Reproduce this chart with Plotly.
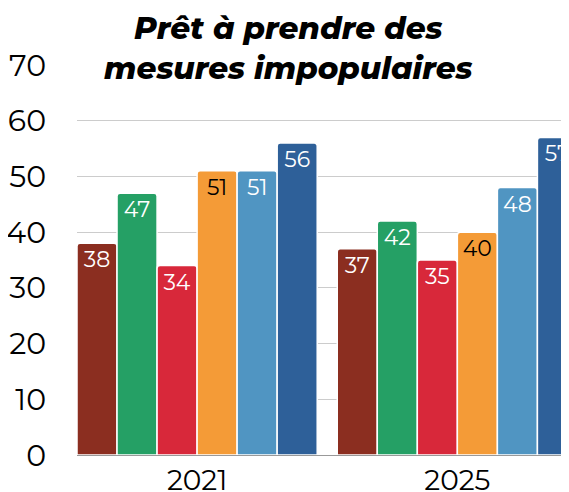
import plotly.graph_objects as go

years = ["2021", "2025"]
series_names = ["Série 1", "Série 2", "Série 3", "Série 4", "Série 5", "Série 6"]
values = [
    [38, 37],
    [47, 42],
    [34, 35],
    [51, 40],
    [51, 48],
    [56, 57],
]
colors = ["#8B2E20", "#25A065", "#D8283A", "#F49B37", "#5095C2", "#2E6099"]
text_colors = ["white", "white", "white", "black", "white", "white"]
y_ticks = [0, 10, 20, 30, 40, 50, 60, 70]

FONT = "Montserrat, Inter, 'DejaVu Sans', sans-serif"

# page has an 8px default body margin
OFF = 8
W, H = 569 - OFF, 492 - OFF
L, R, T = 77 - OFF, 0, 65 - OFF
B = H - (455 - OFF)
plot_w = W - L - R
plot_h = H - T - B

fig = go.Figure()
for name, vals, c, tc in zip(series_names, values, colors, text_colors):
    fig.add_trace(go.Bar(
        x=years, y=vals, name=name,
        marker=dict(color=c, line=dict(color="white", width=1.5)),
        text=[str(v) for v in vals],
        textposition="inside",
        insidetextanchor="end",
        textfont=dict(family=FONT, size=22, color=tc),
        cliponaxis=True,
    ))

fig.update_layout(
    autosize=False,
    width=W, height=H,
    margin=dict(l=L, r=R, t=T, b=B, autoexpand=False),
    paper_bgcolor="white", plot_bgcolor="white",
    barmode="group",
    bargap=0.077,
    bargroupgap=0,
    barcornerradius=3,
    showlegend=False,
    font=dict(family=FONT, color="black"),
    xaxis=dict(
        type="category",
        automargin=False,
        range=[-0.4615, 1.429],
        tickfont=dict(family=FONT, size=28, color="black"),
        showgrid=False,
        showline=True, linecolor="#999999", linewidth=1,
        ticks="",
    ),
    yaxis=dict(
        automargin=False,
        range=[0, 70],
        tickvals=y_ticks,
        tickfont=dict(family=FONT, size=30, color="black"),
        showgrid=True, gridcolor="#CCCCCC", gridwidth=1,
        zeroline=False,
        ticks="outside", ticklen=24, tickcolor="rgba(0,0,0,0)",
    ),
    annotations=[dict(
        text="Prêt à prendre des<br>mesures impopulaires",
        x=(288 - OFF - L) / plot_w, y=(455 - 48) / plot_h,
        xref="paper", yref="paper",
        xanchor="center", yanchor="middle",
        showarrow=False,
        font=dict(family=FONT, size=31, color="black", weight=800, style="italic"),
        align="center",
    )],
)

fig.write_html("out.html")
